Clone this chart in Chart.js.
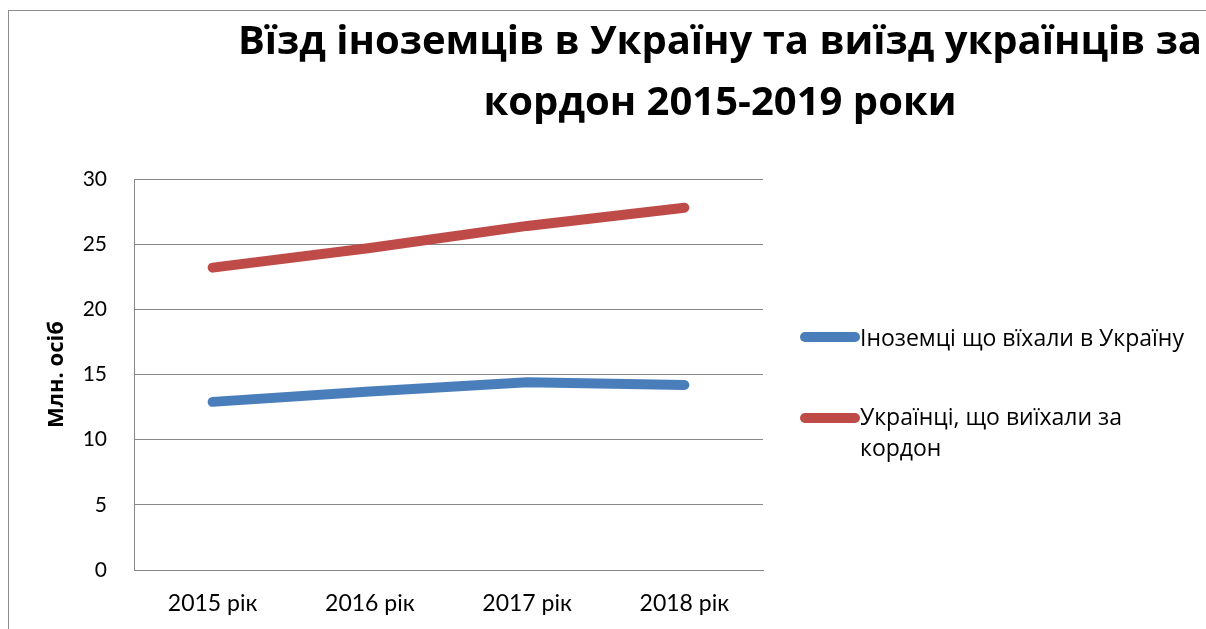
<!DOCTYPE html>
<html>
<head>
<meta charset="utf-8">
<script src="https://cdn.jsdelivr.net/npm/chart.js@4.4.1/dist/chart.umd.min.js"></script>
<style>
  html, body { margin: 0; padding: 0; width: 1206px; height: 629px; overflow: hidden; background: #fff; }
  #frame { position: absolute; left: 8px; top: 10px; width: 1500px; height: 700px; border: 1px solid #8c8c8c; box-sizing: border-box; }
  #wrap { position: absolute; left: 9px; top: 11px; width: 1422px; height: 618px; }
  #legend { position: absolute; left: 0; top: 0; font-family: "Open Sans", Lato, sans-serif; font-size: 23px; color: #000; }
  .sw { position: absolute; left: 800px; width: 60px; height: 10px; border-radius: 5px; }
  .txt { position: absolute; left: 860px; line-height: 31px; white-space: nowrap; }
</style>
</head>
<body>
<div id="frame"></div>
<div id="wrap"><canvas id="c" width="1422" height="618"></canvas></div>
<div id="legend"></div>
<script>
const categories = ["2015 рік", "2016 рік", "2017 рік", "2018 рік"];
const foreignersIn = [12.9, 13.7, 14.4, 14.2];
const ukrainiansOut = [23.2, 24.7, 26.4, 27.8];
const seriesNames = ["Іноземці що вїхали в Україну", "Українці, що виїхали за кордон"];
const legendLines = [["Іноземці що вїхали в Україну"], ["Українці, що виїхали за", "кордон"]];
const titleLines = ["Вїзд іноземців в Україну та виїзд українців за", "кордон 2015-2019 роки"];
const yTitle = "Млн. осіб";

const TICKFONT = "Lato, 'Open Sans', sans-serif";
const BIGFONT = "'Open Sans', Lato, sans-serif";
const blue = "#4A7EBB", red = "#BE4B48", gridCol = "#878787";

const chart = new Chart(document.getElementById('c'), {
  type: 'line',
  data: {
    labels: categories,
    datasets: [
      { label: seriesNames[0], data: foreignersIn, borderColor: blue, backgroundColor: blue, yAxisID: 'y' },
      { label: seriesNames[1], data: ukrainiansOut, borderColor: red, backgroundColor: red, yAxisID: 'y' }
    ]
  },
  options: {
    responsive: false,
    animation: false,
    layout: { padding: 0 },
    elements: {
      line: { borderWidth: 10, borderCapStyle: 'round', borderJoinStyle: 'round', tension: 0 },
      point: { radius: 0, hoverRadius: 0 }
    },
    plugins: {
      legend: { display: false },
      tooltip: { enabled: false },
      title: {
        display: true,
        text: titleLines,
        color: '#000',
        font: { family: BIGFONT, size: 40, weight: 'bold', lineHeight: 1.525 },
        padding: { top: 1, bottom: 45 }
      }
    },
    scales: {
      x: {
        offset: true,
        grid: { display: false, drawTicks: false },
        border: { display: true, color: gridCol, width: 1 },
        ticks: { color: '#000', font: { family: TICKFONT, size: 23 }, padding: 20, maxRotation: 0 },
        afterFit: s => { s.height = 59; }
      },
      y: {
        min: 0, max: 30,
        ticks: { stepSize: 5, color: '#000', font: { family: TICKFONT, size: 21 }, padding: 27 },
        grid: { color: gridCol, lineWidth: 1, drawTicks: false },
        border: { display: true, color: gridCol, width: 1 },
        title: { display: true, text: yTitle, color: '#000', font: { family: BIGFONT, size: 22, weight: 'bold', lineHeight: 1.2 }, padding: { top: 35, bottom: 0 } },
        afterFit: s => { s.width = 125; }
      },
      side: {
        type: 'linear',
        position: 'right',
        display: true,
        ticks: { display: false },
        grid: { display: false, drawTicks: false },
        border: { display: false },
        afterFit: s => { s.width = 668; }
      }
    }
  }
});

// legend built from the chart's datasets
const leg = document.getElementById('legend');
const swTop = [332, 413];
const txtTop = [322, 401];
chart.data.datasets.forEach((ds, i) => {
  const sw = document.createElement('div');
  sw.className = 'sw';
  sw.style.background = ds.borderColor;
  sw.style.top = swTop[i] + 'px';
  const tx = document.createElement('div');
  tx.className = 'txt';
  tx.style.top = txtTop[i] + 'px';
  tx.innerHTML = legendLines[i].join('<br>');
  leg.appendChild(sw); leg.appendChild(tx);
});
</script>
</body>
</html>
